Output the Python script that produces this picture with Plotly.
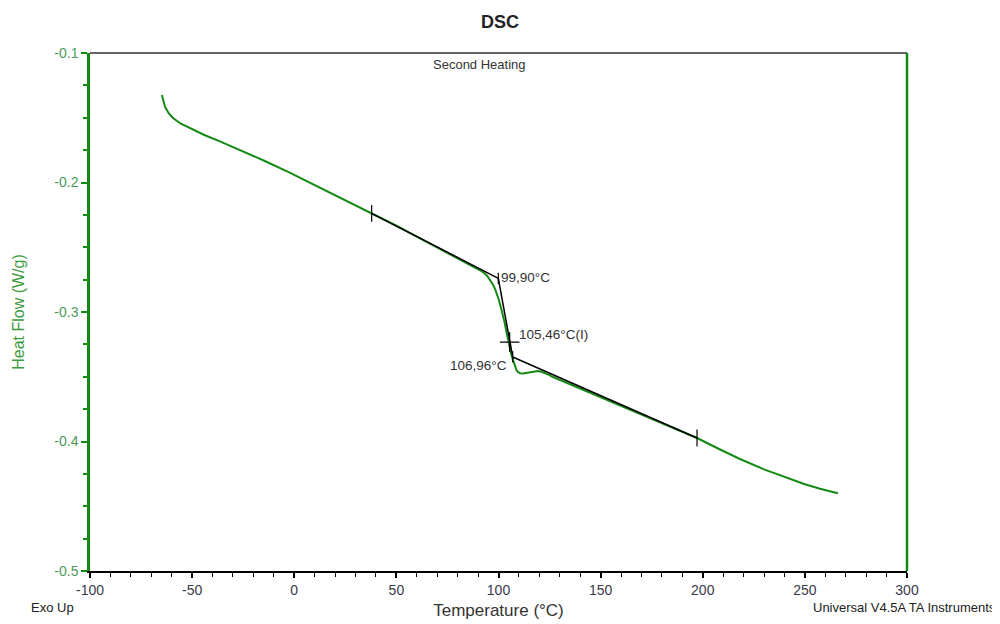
import plotly.graph_objects as go

# DSC curve (Temperature °C, Heat Flow W/g)
temp = [-64.8, -64.0, -63.3, -61.5, -59.2, -55.5, -51.0, -44.0, -36.4, -26.0, -15.2, -3.0,
        9.3, 23.5, 37.9, 50.0, 61.6, 72.0, 81.2, 85.5, 88.5, 91.0, 92.9, 94.5, 95.8, 97.2,
        98.3, 99.3, 100.2, 101.2, 102.2, 103.0, 103.7, 104.4, 105.1, 105.9, 106.6, 107.4,
        108.1, 108.8, 109.5, 110.6, 112.0, 113.7, 115.4, 117.3, 119.3, 121.0, 122.8, 124.7,
        126.7, 143.0, 159.5, 178.0, 197.2, 208.0, 218.2, 230.0, 242.7, 250.0, 257.4, 262.0, 266.2]
heat_flow = [-0.1324, -0.1375, -0.1415, -0.1465, -0.1504, -0.1546, -0.1581, -0.1633,
             -0.1683, -0.1752, -0.1828, -0.1918, -0.2015, -0.2125, -0.2238, -0.2334,
             -0.2432, -0.2517, -0.2595, -0.2628, -0.2656, -0.2678, -0.2699, -0.2722,
             -0.2753, -0.2785, -0.2822, -0.2862, -0.2907, -0.2965, -0.3023, -0.3082,
             -0.3139, -0.3197, -0.3255, -0.3303, -0.3347, -0.3390, -0.3425, -0.3448,
             -0.3463, -0.3473, -0.3475, -0.3470, -0.3463, -0.3458, -0.3456, -0.3462,
             -0.3471, -0.3485, -0.3502, -0.3610, -0.3718, -0.3845, -0.3973, -0.4058,
             -0.4135, -0.4215, -0.4290, -0.4330, -0.4365, -0.4385, -0.4400]

# Glass transition analysis construction lines
onset_x = [37.9, 99.9]
onset_y = [-0.2238, -0.2740]
steep_x = [99.9, 106.96]
steep_y = [-0.2740, -0.3347]
end_x = [106.96, 197.2]
end_y = [-0.3347, -0.3973]
limit_x = [37.9, 197.2]
limit_y = [-0.2238, -0.3973]
inflect_x = 105.46
inflect_y = -0.3232

x_ticks = [-100, -50, 0, 50, 100, 150, 200, 250, 300]
x_ticktext = ["-100", "-50", "0", "50", "100", "150", "200", "250", "300"]
y_ticks = [-0.5, -0.4, -0.3, -0.2, -0.1]
y_ticktext = ["-0.5", "-0.4", "-0.3", "-0.2", "-0.1"]

green = "#138a13"
fig = go.Figure()
fig.add_trace(go.Scatter(x=temp, y=heat_flow, mode="lines",
                         line=dict(color=green, width=2),
                         showlegend=False, hoverinfo="skip"))
for xs, ys in [(onset_x, onset_y), (steep_x, steep_y), (end_x, end_y)]:
    fig.add_trace(go.Scatter(x=xs, y=ys, mode="lines", line=dict(color="black", width=1.5),
                             showlegend=False, hoverinfo="skip"))
fig.add_trace(go.Scatter(x=limit_x, y=limit_y, mode="markers",
                         marker=dict(symbol="line-ns", size=12, line=dict(color="black", width=1.2)),
                         showlegend=False, hoverinfo="skip"))
fig.add_trace(go.Scatter(x=[onset_x[1], end_x[0]], y=[onset_y[1], end_y[0]], mode="markers",
                         marker=dict(symbol="line-ns", size=8, line=dict(color="black", width=1.2)),
                         showlegend=False, hoverinfo="skip"))
fig.add_trace(go.Scatter(x=[inflect_x], y=[inflect_y], mode="markers",
                         marker=dict(symbol="cross-thin", size=14, line=dict(color="black", width=1.2)),
                         showlegend=False, hoverinfo="skip"))

fnt = "Liberation Sans, Arial, sans-serif"
OFF = 8  # page body margin
W, H = 1000, 624
L = 90 - OFF
T = 53 - OFF
R = W - (907 - OFF)
B = H - (571 - OFF)
plot_w = W - L - R
plot_h = H - T - B


def px_x(px):
    return (px - OFF - L) / plot_w


def px_y(py):
    return (H - B - (py - OFF)) / plot_h


fig.update_layout(
    width=W, height=H,
    margin=dict(l=L, r=R, t=T, b=B, autoexpand=False),
    paper_bgcolor="white", plot_bgcolor="white",
    font=dict(family=fnt, color="#333"),
    title=dict(text="<b>DSC</b>", x=(500 - OFF) / W, xanchor="center", y=1 - (22 - OFF) / H,
               yanchor="middle", font=dict(size=18, color="#222", family=fnt), automargin=False),
    xaxis=dict(range=[-100, 300], tickvals=x_ticks, ticktext=x_ticktext,
               showgrid=False, zeroline=False, automargin=False,
               showline=True, linecolor="black", linewidth=1.5,
               ticks="outside", ticklen=5, tickcolor="black", tickwidth=1.5,
               tickfont=dict(size=14, color="#3a3a4a"),
               minor=dict(dtick=10, tick0=-100, ticks="outside", ticklen=4, tickcolor="black", tickwidth=1.2),
               title=dict(text="Temperature (°C)", font=dict(size=17, color="#333"), standoff=8)),
    yaxis=dict(range=[-0.5, -0.1], tickvals=y_ticks, ticktext=y_ticktext,
               showgrid=False, zeroline=False, automargin=False,
               showline=True, linecolor=green, linewidth=2.5,
               ticks="outside", ticklen=6, tickcolor=green, tickwidth=2,
               tickfont=dict(size=14, color="#4a9a5a"),
               minor=dict(dtick=0.025, tick0=-0.5, ticks="outside", ticklen=4, tickcolor=green, tickwidth=2),
               title=dict(text="Heat Flow (W/g)", font=dict(size=16, color="#3d9a3d"), standoff=26)),
    shapes=[
        dict(type="line", xref="paper", yref="paper", x0=0, x1=1, y0=1, y1=1,
             line=dict(color="#666", width=2)),
        dict(type="line", xref="paper", yref="paper", x0=1, x1=1, y0=0, y1=1,
             line=dict(color=green, width=2.5)),
    ],
    annotations=[
        dict(text="Second Heating", x=px_x(479), xref="paper", y=px_y(65), yref="paper",
             showarrow=False, xanchor="center", yanchor="middle", font=dict(size=13, color="#333")),
        dict(text="99,90°C", x=100.0, y=-0.2735, xanchor="left", yanchor="middle",
             showarrow=False, font=dict(size=13.5, color="#333")),
        dict(text="105,46°C(I)", x=109.0, y=-0.3175, xanchor="left", yanchor="middle",
             showarrow=False, font=dict(size=13.5, color="#333")),
        dict(text="106,96°C", x=105.3, y=-0.3415, xanchor="right", yanchor="middle",
             showarrow=False, font=dict(size=13.5, color="#333")),
        dict(text="Exo Up", x=px_x(29), xref="paper", xanchor="left", y=px_y(607), yref="paper",
             yanchor="middle", showarrow=False, font=dict(size=13, color="#222")),
        dict(text="Universal V4.5A TA Instruments", x=px_x(998), xref="paper", y=px_y(607),
             yref="paper", xanchor="right", yanchor="middle", showarrow=False,
             font=dict(size=13, color="#222")),
    ],
)

fig.write_html("out.html")
